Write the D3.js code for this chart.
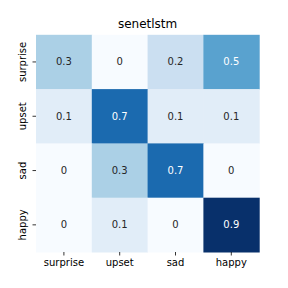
<!DOCTYPE html>
<html><head><meta charset="utf-8">
<script src="https://cdn.jsdelivr.net/npm/d3@7"></script>
<style>body{margin:0;background:#fff}svg{display:block}text{font-family:"DejaVu Sans",sans-serif}</style>
</head><body><svg id="c" width="288" height="288"></svg>
<script>
const title = "senetlstm";
const rowLabels = ["surprise", "upset", "sad", "happy"];
const colLabels = ["surprise", "upset", "sad", "happy"];
const values = [
  [0.3, 0, 0.2, 0.5],
  [0.1, 0.7, 0.1, 0.1],
  [0, 0.3, 0.7, 0],
  [0, 0.1, 0, 0.9]
];
const bluesPalette = ["#f7fbff","#deebf7","#c6dbef","#9ecae1","#6baed6","#4292c6","#2171b5","#08519c","#08306b"];

const svg = d3.select("#c");
const L = 36, R = 259.2, T = 34.8, B = 252;
const x = d3.scaleBand().domain(colLabels).range([L, R]);
const y = d3.scaleBand().domain(rowLabels).range([T, B]);
const vmax = d3.max(values.flat()), vmin = d3.min(values.flat());
const color = d3.scaleLinear()
  .domain(bluesPalette.map((_, i) => vmin + (vmax - vmin) * i / (bluesPalette.length - 1)))
  .range(bluesPalette).interpolate(d3.interpolateRgb);

const cells = [];
values.forEach((row, i) => row.forEach((v, j) => cells.push({r: rowLabels[i], c: colLabels[j], v})));

svg.append("g").selectAll("rect").data(cells).join("rect")
  .attr("x", d => x(d.c)).attr("y", d => y(d.r))
  .attr("width", x.bandwidth() + 0.5).attr("height", y.bandwidth() + 0.5)
  .attr("fill", d => color(d.v));

function lum(c) {
  const rgb = d3.rgb(c);
  const f = u => { u /= 255; return u <= 0.03928 ? u / 12.92 : Math.pow((u + 0.055) / 1.055, 2.4); };
  return 0.2126 * f(rgb.r) + 0.7152 * f(rgb.g) + 0.0722 * f(rgb.b);
}
svg.append("g").selectAll("text").data(cells).join("text")
  .attr("x", d => x(d.c) + x.bandwidth() / 2)
  .attr("y", d => y(d.r) + y.bandwidth() / 2)
  .attr("text-anchor", "middle").attr("dominant-baseline", "central")
  .attr("font-size", 10)
  .attr("fill", d => lum(color(d.v)) > 0.408 ? "#262626" : "#ffffff")
  .text(d => String(d.v));

const xAxis = svg.append("g").attr("transform", `translate(0,${B})`)
  .call(d3.axisBottom(x).tickSize(3.5).tickPadding(3.5));
const yAxis = svg.append("g").attr("transform", `translate(${L},0)`)
  .call(d3.axisLeft(y).tickSize(3.5).tickPadding(3.5));
[xAxis, yAxis].forEach(g => {
  g.select(".domain").remove();
  g.selectAll("text").attr("font-size", 10).attr("fill", "#000").attr("font-family", "DejaVu Sans");
  g.selectAll("line").attr("stroke", "#000").attr("stroke-width", 0.8);
});
yAxis.selectAll(".tick text")
  .attr("transform", "rotate(-90)").attr("text-anchor", "middle")
  .attr("x", 0).attr("y", 0).attr("dy", null)
  .attr("dominant-baseline", "auto")
  .each(function() {
    const t = d3.select(this);
    t.attr("transform", "translate(-10,0) rotate(-90)");
  });

svg.append("text").attr("x", (L + R) / 2).attr("y", T - 6.5)
  .attr("text-anchor", "middle").attr("font-size", 12).attr("fill", "#000")
  .text(title);
</script></body></html>
